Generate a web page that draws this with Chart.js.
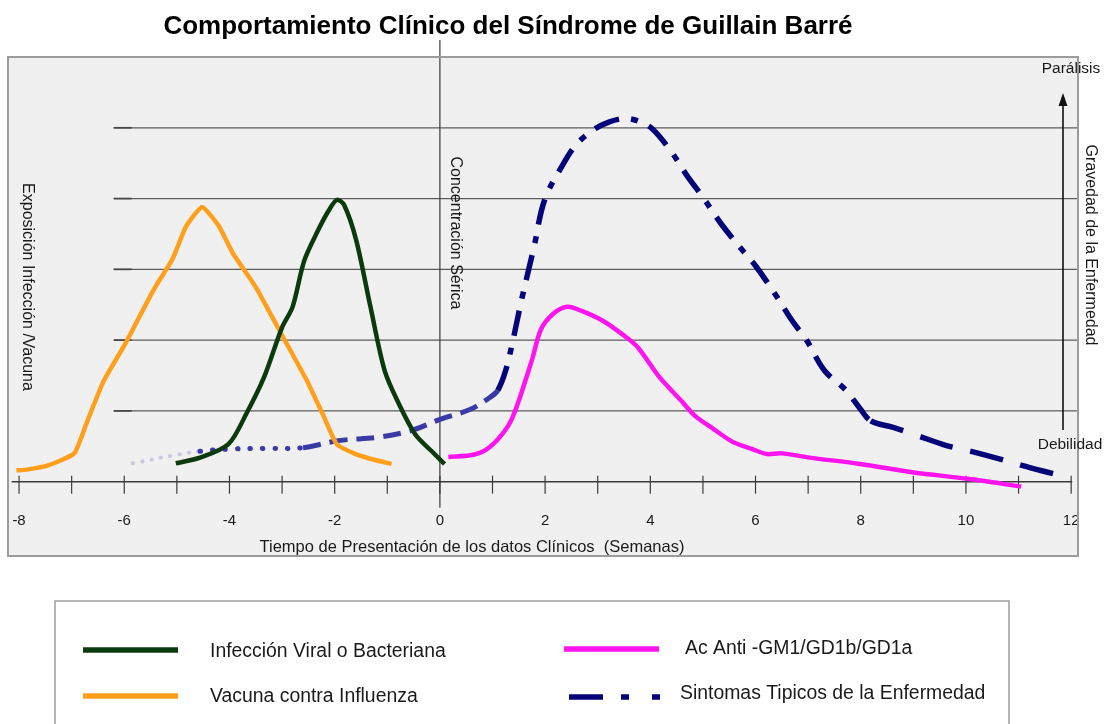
<!DOCTYPE html>
<html>
<head>
<meta charset="utf-8">
<script src="https://cdn.jsdelivr.net/npm/chart.js@4.4.1/dist/chart.umd.min.js"></script>
<style>
  html, body { margin: 0; padding: 0; background: #ffffff; }
  #wrap { width: 1105px; height: 724px; }
</style>
</head>
<body>
<div id="wrap"><canvas id="gbs" width="1105" height="724"></canvas></div>
<script>
// Texts
const chartTitle = 'Comportamiento Clínico del Síndrome de Guillain Barré';
const xAxisTitle = 'Tiempo de Presentación de los datos Clínicos  (Semanas)';
const leftAxisText = 'Exposición Infección /Vacuna';
const centerAxisText = 'Concentración Sérica';
const rightAxisText = 'Gravedad de la Enfermedad';
const severityTop = 'Parálisis';
const severityBottom = 'Debilidad';

// Axis ticks (weeks) and horizontal reference levels
const xTickValues = [-8, -6, -4, -2, 0, 2, 4, 6, 8, 10, 12];
const xTickLabels = ['-8', '-6', '-4', '-2', '0', '2', '4', '6', '8', '10', '12'];
const xMinorTicks = [-8, -7, -6, -5, -4, -3, -2, -1, 0, 1, 2, 3, 4, 5, 6, 7, 8, 9, 10, 11, 12];
const levelValues = [1, 2, 3, 4, 5];

// Series labels
const seriesNames = [
  'Infección Viral o Bacteriana',
  'Vacuna contra Influenza',
  'Ac Anti -GM1/GD1b/GD1a',
  'Sintomas Tipicos de la Enfermedad'
];

// Vacuna contra Influenza
const vacunaX = [-8.05, -7.85, -7.45, -6.95, -6.72, -6.4, -5.98, -5.45, -5.08, -4.83, -4.52, -4.2, -3.93, -3.5, -2.95, -2.53, -2.23, -1.96, -1.6, -1.25, -0.92];
const vacunaY = [0.16, 0.17, 0.23, 0.40, 0.82, 1.41, 1.95, 2.70, 3.15, 3.60, 3.88, 3.61, 3.22, 2.75, 2.00, 1.43, 0.96, 0.53, 0.39, 0.31, 0.25];

// Infección Viral o Bacteriana
const infeccionX = [-5.02, -4.56, -4.02, -3.68, -3.34, -3.0, -2.8, -2.58, -2.33, -2.13, -1.96, -1.82, -1.59, -1.32, -1.05, -0.78, -0.47, -0.17, 0.09];
const infeccionY = [0.26, 0.34, 0.53, 0.96, 1.48, 2.18, 2.47, 3.12, 3.53, 3.81, 3.98, 3.91, 3.41, 2.47, 1.57, 1.10, 0.67, 0.44, 0.25];

// Ac Anti -GM1/GD1b/GD1a
const anticuerposX = [0.16, 0.64, 0.95, 1.29, 1.46, 1.75, 1.92, 2.15, 2.42, 2.67, 3.08, 3.49, 3.76, 4.17, 4.58, 4.85, 5.19, 5.57, 5.94, 6.21, 6.49, 7.03, 7.99, 9.01, 10.04, 11.05];
const anticuerposY = [0.35, 0.38, 0.49, 0.78, 1.06, 1.72, 2.15, 2.37, 2.47, 2.42, 2.28, 2.07, 1.90, 1.48, 1.15, 0.93, 0.75, 0.56, 0.46, 0.39, 0.40, 0.34, 0.25, 0.13, 0.04, -0.07];

// Sintomas Tipicos de la Enfermedad
const sintomasX = [-5.84, -5.0, -4.56, -4.02, -3.3, -2.6, -1.93, -1.14, -0.51, 0.0, 0.57, 0.95, 1.1, 1.25, 1.39, 1.55, 1.79, 1.99, 2.33, 2.6, 2.94, 3.21, 3.5, 3.75, 4.03, 4.41, 4.71, 4.99, 5.36, 5.74, 6.01, 6.39, 6.69, 6.97, 7.31, 7.72, 7.99, 8.19, 8.6, 9.01, 9.63, 10.04, 10.65, 11.06, 11.67];
const sintomasY = [0.26, 0.38, 0.43, 0.46, 0.47, 0.48, 0.58, 0.63, 0.73, 0.88, 1.02, 1.19, 1.29, 1.57, 2.00, 2.56, 3.32, 3.98, 4.47, 4.77, 4.98, 5.08, 5.13, 5.10, 4.99, 4.65, 4.31, 4.03, 3.63, 3.28, 3.04, 2.63, 2.28, 2.00, 1.57, 1.29, 1.03, 0.86, 0.77, 0.67, 0.51, 0.44, 0.32, 0.23, 0.11];

const COL_GREEN = '#0b3a0d';
const COL_ORANGE = '#ff9f1c';
const COL_MAGENTA = '#ff14f0';
const COL_NAVY = '#05057a';
const COL_MIDBLUE = '#3a3aa6';
const COL_FAINT = '#c9c9e0';

const pts = (xs, ys) => xs.map((v, i) => ({ x: v, y: ys[i] }));

// Line style of the symptoms curve along the time axis
function sintomasStyle(x0) {
  if (x0 < -4.7) return { color: COL_FAINT, dash: [0.5, 9], cap: 'round', width: 4 };
  if (x0 < -2.65) return { color: COL_MIDBLUE, dash: [0.5, 12], cap: 'round', width: 5 };
  if (x0 < 1.0) return { color: COL_MIDBLUE, dash: [18, 9], cap: 'butt', width: 5 };
  if (x0 < 8.1) return { color: COL_NAVY, dash: [26, 12, 7, 12], cap: 'butt', width: 5.5 };
  return { color: COL_NAVY, dash: [34, 18], cap: 'butt', width: 5.5 };
}

const SANS = '"Liberation Sans", Arial, sans-serif';

function line(ctx, x1, y1, x2, y2) {
  ctx.beginPath(); ctx.moveTo(x1, y1); ctx.lineTo(x2, y2); ctx.stroke();
}

function vText(ctx, text, cx, cy, font) {
  ctx.save();
  ctx.translate(cx, cy);
  ctx.rotate(Math.PI / 2);
  ctx.font = font;
  ctx.textAlign = 'center';
  ctx.textBaseline = 'middle';
  ctx.fillStyle = '#1a1a1a';
  ctx.fillText(text, 0, 0);
  ctx.restore();
}

const decor = {
  id: 'decor',
  beforeDraw(chart) {
    const { ctx, chartArea: a, scales: { x, y } } = chart;
    ctx.save();
    ctx.fillStyle = '#ffffff';
    ctx.fillRect(0, 0, chart.width, chart.height);
    ctx.fillStyle = '#f0f0f0';
    ctx.fillRect(a.left, a.top, a.right - a.left, a.bottom - a.top);

    // horizontal reference levels
    const gx0 = x.getPixelForValue(-6.2);
    ctx.strokeStyle = '#5c5c5c';
    ctx.lineWidth = 1.3;
    levelValues.forEach(v => {
      const py = y.getPixelForValue(v);
      line(ctx, gx0, py, a.right, py);
    });
    ctx.strokeStyle = '#474747';
    ctx.lineWidth = 1.7;
    [a.top, ...levelValues.map(v => y.getPixelForValue(v)), a.bottom].forEach(py => {
      line(ctx, gx0, py, gx0 + 18, py);
    });

    // time axis
    const y0 = y.getPixelForValue(0);
    ctx.strokeStyle = '#3a3a3a';
    ctx.lineWidth = 1.6;
    line(ctx, x.getPixelForValue(-8.14), y0, x.getPixelForValue(12.02), y0);
    ctx.lineWidth = 1.2;
    xMinorTicks.forEach(v => {
      const px = x.getPixelForValue(v);
      line(ctx, px, y0 - 6, px, y0 + 12);
    });
    const px0 = x.getPixelForValue(0);
    line(ctx, px0, 40, px0, y0 + 26);

    ctx.fillStyle = '#1a1a1a';
    ctx.font = '15px ' + SANS;
    ctx.textAlign = 'center';
    ctx.textBaseline = 'middle';
    xTickValues.forEach((v, i) => {
      ctx.fillText(xTickLabels[i], x.getPixelForValue(v), 521);
    });
    ctx.font = '16.5px ' + SANS;
    ctx.fillText(xAxisTitle, 472, 547);

    // frame
    ctx.strokeStyle = '#9c9c9c';
    ctx.lineWidth = 2;
    ctx.strokeRect(a.left, a.top, a.right - a.left, a.bottom - a.top);
    ctx.restore();
  },
  afterDraw(chart) {
    const { ctx, scales: { x } } = chart;
    ctx.save();
    // title
    ctx.fillStyle = '#000';
    ctx.font = 'bold 26px ' + SANS;
    ctx.textAlign = 'center';
    ctx.textBaseline = 'middle';
    ctx.fillText(chartTitle, 508, 27);

    // side labels
    vText(ctx, leftAxisText, 27, 287, '16px ' + SANS);
    vText(ctx, centerAxisText, x.getPixelForValue(0) + 16, 233, '16px ' + SANS);
    vText(ctx, rightAxisText, 1090, 245, '16px ' + SANS);

    ctx.fillStyle = '#1a1a1a';
    ctx.font = '15.5px ' + SANS;
    ctx.textAlign = 'center';
    ctx.fillText(severityTop, 1071, 69);
    ctx.fillText(severityBottom, 1070, 445);

    // severity arrow
    ctx.strokeStyle = '#111';
    ctx.lineWidth = 1.6;
    line(ctx, 1063, 430, 1063, 104);
    ctx.fillStyle = '#111';
    ctx.beginPath();
    ctx.moveTo(1063, 93);
    ctx.lineTo(1058.5, 106);
    ctx.lineTo(1067.5, 106);
    ctx.closePath();
    ctx.fill();

    // legend box
    ctx.fillStyle = '#ffffff';
    ctx.fillRect(55, 601, 954, 130);
    ctx.strokeStyle = '#9c9c9c';
    ctx.lineWidth = 1.5;
    ctx.strokeRect(55, 601, 954, 130);

    const ds = chart.data.datasets;
    const entries = [
      { i: 0, x1: 83, x2: 178, y: 650, tx: 210, ty: 652 },
      { i: 1, x1: 83, x2: 178, y: 696, tx: 210, ty: 697 },
      { i: 2, x1: 564, x2: 659, y: 649, tx: 685, ty: 649 },
      { i: 3, x1: 569, x2: 660, y: 697, tx: 680, ty: 694 }
    ];
    entries.forEach(e => {
      const d = ds[e.i];
      ctx.save();
      ctx.lineWidth = 5.5;
      ctx.lineCap = 'butt';
      if (e.i === 3) {
        ctx.strokeStyle = COL_NAVY;
        ctx.setLineDash([34, 18, 8, 23, 8, 200]);
      } else {
        ctx.strokeStyle = d.borderColor;
      }
      line(ctx, e.x1, e.y, e.x2, e.y);
      ctx.restore();
      ctx.fillStyle = '#1a1a1a';
      ctx.font = '19.4px ' + SANS;
      ctx.textAlign = 'left';
      ctx.textBaseline = 'middle';
      ctx.fillText(d.label, e.tx, e.ty);
    });
    ctx.restore();
  }
};

new Chart(document.getElementById('gbs'), {
  type: 'line',
  data: {
    datasets: [
      {
        label: seriesNames[0],
        data: pts(infeccionX, infeccionY),
        borderColor: COL_GREEN,
        borderWidth: 4.5,
        tension: 0.3
      },
      {
        label: seriesNames[1],
        data: pts(vacunaX, vacunaY),
        borderColor: COL_ORANGE,
        borderWidth: 4.5,
        tension: 0.15
      },
      {
        label: seriesNames[2],
        data: pts(anticuerposX, anticuerposY),
        borderColor: COL_MAGENTA,
        borderWidth: 4.5,
        tension: 0.3
      },
      {
        label: seriesNames[3],
        data: pts(sintomasX, sintomasY),
        borderColor: COL_NAVY,
        borderWidth: 5.5,
        tension: 0.35,
        segment: {
          borderColor: c => sintomasStyle(c.p0.parsed.x).color,
          borderDash: c => sintomasStyle(c.p0.parsed.x).dash,
          borderCapStyle: c => sintomasStyle(c.p0.parsed.x).cap,
          borderWidth: c => sintomasStyle(c.p0.parsed.x).width
        }
      }
    ]
  },
  options: {
    responsive: false,
    animation: false,
    devicePixelRatio: 1,
    layout: { padding: { left: 8, top: 57, right: 27, bottom: 168 } },
    elements: { point: { radius: 0, hoverRadius: 0 } },
    plugins: {
      legend: { display: false },
      title: { display: false },
      tooltip: { enabled: false }
    },
    scales: {
      x: { type: 'linear', min: -8.21, max: 12.13, display: false },
      y: { type: 'linear', min: -1.05, max: 6.0, display: false }
    }
  },
  plugins: [decor]
});
</script>
</body>
</html>
